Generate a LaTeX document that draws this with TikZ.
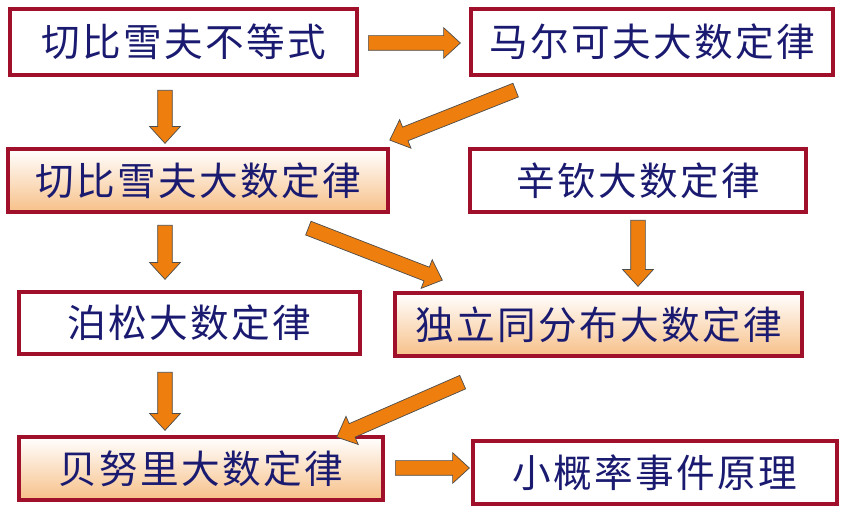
\documentclass[tikz,border=0pt]{standalone}
\usepackage{fontspec}
\newfontfamily\cjk[LetterSpace=6]{Noto Sans CJK SC}
\usetikzlibrary{calc,shapes.arrows}
\definecolor{boxred}{HTML}{A0102A}
\definecolor{txtblue}{HTML}{1A1A70}
\definecolor{arrorange}{HTML}{EE7F0E}
\definecolor{shadeor}{HTML}{F7C088}
\tikzset{
  lawbox/.style={draw=boxred, line width=1.8pt, fill=white, text=txtblue,
    font=\cjk\fontsize{22}{26}\selectfont, inner sep=0pt},
  shadebox/.style={lawbox, top color=white, bottom color=shadeor},
  blockarr/.style={single arrow, draw=black!70, thin, fill=arrorange,
    inner sep=0.14cm, single arrow head extend=0.16cm, single arrow tip angle=85,
    anchor=tail, shape border uses incircle=false}
}
\newcommand\blockarrow[2]{%
  \path let \p1=(#1), \p2=(#2), \n1={atan2(\y2-\y1,\x2-\x1)},
    \n2={veclen(\x2-\x1,\y2-\y1)} in
    node[blockarr, minimum height=\n2, rotate=\n1] at (#1) {};}
\begin{document}
\begin{tikzpicture}[x=0.02cm,y=-0.02cm]
\useasboundingbox (0,0) rectangle (850,523);
% boxes
\node[lawbox, minimum width=347*0.02cm, minimum height=66*0.02cm] (cheb) at (183.5,42) {切比雪夫不等式};
\node[lawbox, minimum width=362*0.02cm, minimum height=66*0.02cm] (markov) at (652,42) {马尔可夫大数定律};
\node[shadebox, minimum width=380*0.02cm, minimum height=63*0.02cm] (chebl) at (198,180.5) {切比雪夫大数定律};
\node[lawbox, minimum width=336*0.02cm, minimum height=63*0.02cm] (khin) at (638,180.5) {辛钦大数定律};
\node[lawbox, minimum width=341*0.02cm, minimum height=62*0.02cm] (poisson) at (189.5,323) {泊松大数定律};
\node[shadebox, minimum width=407*0.02cm, minimum height=63*0.02cm] (iid) at (598.5,324.5) {独立同分布大数定律};
\node[shadebox, minimum width=364*0.02cm, minimum height=63*0.02cm] (bern) at (201,468.5) {贝努里大数定律};
\node[lawbox, minimum width=364*0.02cm, minimum height=63*0.02cm] (small) at (655,472.5) {小概率事件原理};
% arrow ends
\coordinate (a1s) at (368,43);  \coordinate (a1e) at (460,43);
\coordinate (a2s) at (516,90);  \coordinate (a2e) at (390,140);
\coordinate (a3s) at (165,90);  \coordinate (a3e) at (165,143);
\coordinate (a4s) at (165,225); \coordinate (a4e) at (165,279);
\coordinate (a5s) at (308,228); \coordinate (a5e) at (442,280);
\coordinate (a6s) at (638,220); \coordinate (a6e) at (638,286);
\coordinate (a7s) at (463,382); \coordinate (a7e) at (337,437);
\coordinate (a8s) at (165,372); \coordinate (a8e) at (165,430);
\coordinate (a9s) at (395,468); \coordinate (a9e) at (469,468);
\foreach \i in {1,...,9}{\blockarrow{a\i s}{a\i e}}
\end{tikzpicture}
\end{document}
